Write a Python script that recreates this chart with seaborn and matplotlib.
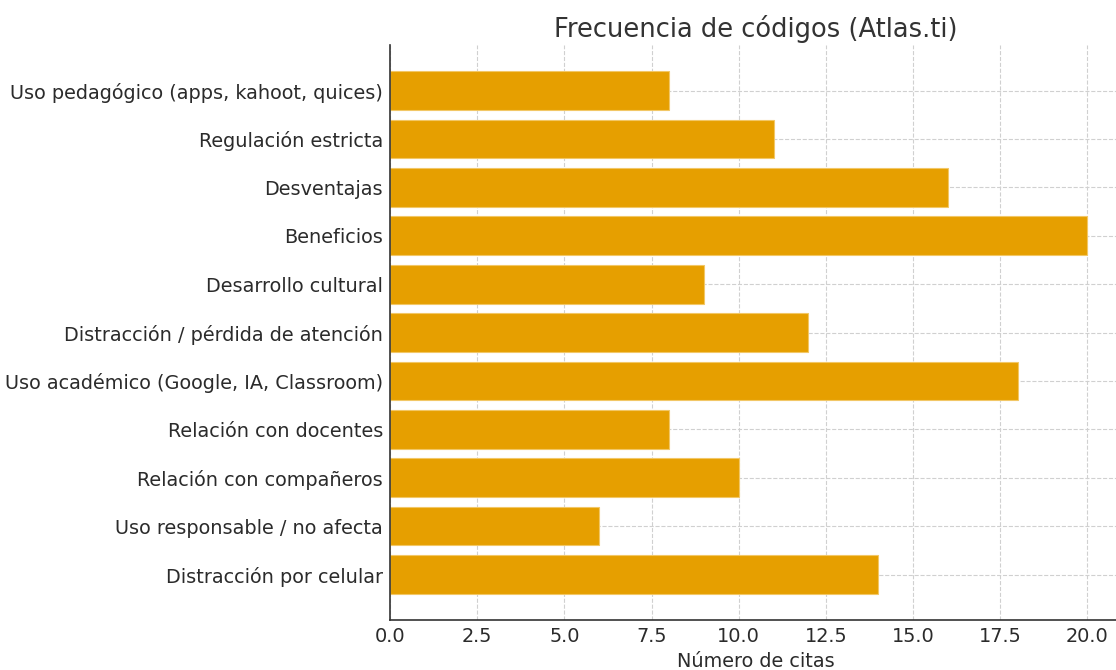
import matplotlib
matplotlib.use("Agg")
import matplotlib.pyplot as plt
import seaborn as sns

# Data
codigos = [
    "Uso pedagógico (apps, kahoot, quices)",
    "Regulación estricta",
    "Desventajas",
    "Beneficios",
    "Desarrollo cultural",
    "Distracción / pérdida de atención",
    "Uso académico (Google, IA, Classroom)",
    "Relación con docentes",
    "Relación con compañeros",
    "Uso responsable / no afecta",
    "Distracción por celular",
]
citas = [8, 11, 16, 20, 9, 12, 18, 8, 10, 6, 14]

sns.set_style("white")
plt.rcParams['font.family'] = ['DejaVu Sans']

fig = plt.figure(figsize=(11.16, 6.70), dpi=100)
ax = fig.add_axes([0.3495, 0.0746, 0.656, 0.858])

sns.barplot(x=citas, y=codigos, orient="h", color="#E69F00", saturation=1,
            width=0.8, edgecolor="#F2C766", linewidth=0.8, ax=ax, zorder=2)

ax.set_xlim(0, 21)
ax.set_ylim(len(codigos) - 1 + 0.94, -0.94)
ax.set_xticks([0, 2.5, 5, 7.5, 10, 12.5, 15, 17.5, 20])

ax.grid(True, linestyle="--", color="#d0d0d0", linewidth=0.8, zorder=0)
ax.set_axisbelow(True)
for s in ["top", "right"]:
    ax.spines[s].set_visible(False)
for s in ["left", "bottom"]:
    ax.spines[s].set_color("#333333")
    ax.spines[s].set_linewidth(1.2)

ax.tick_params(axis="both", direction="in", length=4, colors="#333333",
               labelsize=13.9, labelcolor="#2b2b2b", pad=5)
ax.set_xlabel("Número de citas", fontsize=13.9, color="#2b2b2b", labelpad=4)
ax.set_ylabel("")
ax.set_title("Frecuencia de códigos (Atlas.ti)", fontsize=18.5, color="#333333", pad=6)

fig.savefig("out.png", dpi=100)
